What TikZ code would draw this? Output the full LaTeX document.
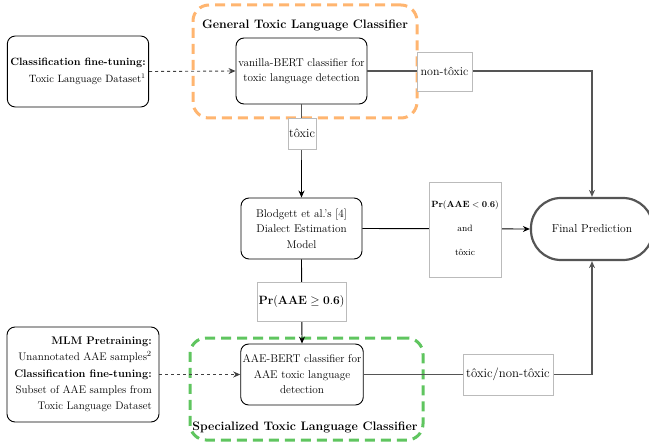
\documentclass[tikz,border=0pt]{standalone}
\usepackage{amsmath}
\usetikzlibrary{arrows.meta}
\definecolor{orangeC}{HTML}{FFB570}
\definecolor{greenC}{HTML}{5FC55F}
\definecolor{lineG}{HTML}{555555}
\definecolor{lblB}{HTML}{BBBBBB}
\newcommand{\htox}{t\^{o}xic}
\newcommand{\plt}{$\mathbf{Pr(AAE}<\mathbf{0.6)}$}
\newcommand{\pge}{$\mathbf{Pr(AAE}\geq\mathbf{0.6)}$}
\tikzset{
  box/.style={draw=black, line width=0.9pt, rounded corners=8pt, fill=white, align=center, inner sep=2pt, font=\fontsize{11.2}{15.5}\selectfont},
  srcbox/.style={draw=black, line width=0.9pt, rounded corners=8pt, fill=white, align=right, inner sep=3pt, font=\fontsize{11}{17}\selectfont},
  container/.style={line width=3pt, rounded corners=16pt, dash pattern=on 10pt off 6pt},
  lbl/.style={draw=lblB, line width=0.6pt, fill=white, inner sep=0pt},
  ttl/.style={font=\fontsize{12.3}{14}\selectfont\bfseries},
  arr/.style={-{Stealth[length=7pt,width=6pt]}},
  glink/.style={draw=lineG, line width=1.3pt},
  blink/.style={draw=black, line width=0.9pt},
  dlink/.style={draw=black!75, line width=0.9pt, dash pattern=on 3pt off 3pt}
}
\begin{document}
\begin{tikzpicture}[x=1pt,y=-1pt]
\useasboundingbox (0,0) rectangle (649,444);
% containers
\node[container, draw=orangeC, minimum width=224pt, minimum height=113pt] (gtc) at (305,61.5) {};
\node[container, draw=greenC, minimum width=233pt, minimum height=102pt] (stc) at (306.5,389) {};
\node[ttl] (gtct) at (305,25) {General Toxic Language Classifier};
\node[ttl] (stct) at (305,427) {Specialized Toxic Language Classifier};
% main nodes
\node[srcbox, minimum width=140pt, minimum height=71pt, font=\fontsize{10.6}{17}\selectfont] (ft1) at (78,71.5)
  {\textbf{Classification fine-tuning:}\\Toxic Language Dataset$^1$};
\node[box, minimum width=131pt, minimum height=66pt] (vb) at (301.5,71)
  {vanilla-BERT classifier for\\toxic language detection};
\node[box, minimum width=121pt, minimum height=61pt] (bl) at (301.5,228.5)
  {Blodgett et al.'s [4]\\Dialect Estimation\\Model};
\node[draw=lineG, line width=2.2pt, fill=white, rounded corners=30pt, minimum width=122pt, minimum height=62pt, font=\fontsize{11.5}{13}\selectfont] (fp) at (592,229) {Final Prediction};
\node[srcbox, minimum width=152pt, minimum height=95pt, font=\fontsize{11}{16.2}\selectfont] (ft2) at (83,374.5)
  {\textbf{MLM Pretraining:}\\Unannotated AAE samples$^2$\\\textbf{Classification fine-tuning:}\\Subset of AAE samples from\\Toxic Language Dataset};
\node[box, minimum width=120pt, minimum height=61pt] (ab) at (302,374.5)
  {AAE-BERT classifier for\\AAE toxic language\\detection};
% corner coordinates
\coordinate (c1) at (592,71);
\coordinate (c2) at (592,374.5);
\coordinate (c3) at (301.5,160);
% connectors
\draw[dlink, arr] (ft1.east) -- (vb.west);
\draw[dlink, arr] (ft2.east) -- (ab.west);
\draw[glink, arr] (vb.east) -- (c1) -- (fp.north);
\draw[glink] (vb.south) -- (c3);
\draw[blink, arr] (c3) -- (bl.north);
\draw[blink, arr] (bl.east) -- (fp.west);
\draw[blink, arr] (bl.south) -- (ab.north);
\draw[glink, arr] (ab.east) -- (c2) -- (fp.south);
% labels
\node[lbl, minimum width=55pt, minimum height=39pt, font=\fontsize{12}{14}\selectfont] (lnt) at (444.5,71.5) {non-\htox};
\node[lbl, minimum width=28pt, minimum height=31pt, font=\fontsize{12.5}{14}\selectfont] (lt) at (302,133.5) {\htox};
\node[lbl, minimum width=72pt, minimum height=95pt, font=\fontsize{9.2}{11}\selectfont] (lnd) at (465,229.5) {\begin{tabular}{@{}c@{}}\plt\\[13pt]and\\[13pt]\htox\end{tabular}};
\node[lbl, minimum width=89pt, minimum height=39pt, font=\fontsize{12}{14}\selectfont] (lge) at (301.5,301.5) {\pge};
\node[lbl, minimum width=90pt, minimum height=41pt, font=\fontsize{12.8}{14}\selectfont] (ltnt) at (508,374.5) {\htox/non-\htox};
\end{tikzpicture}
\end{document}
